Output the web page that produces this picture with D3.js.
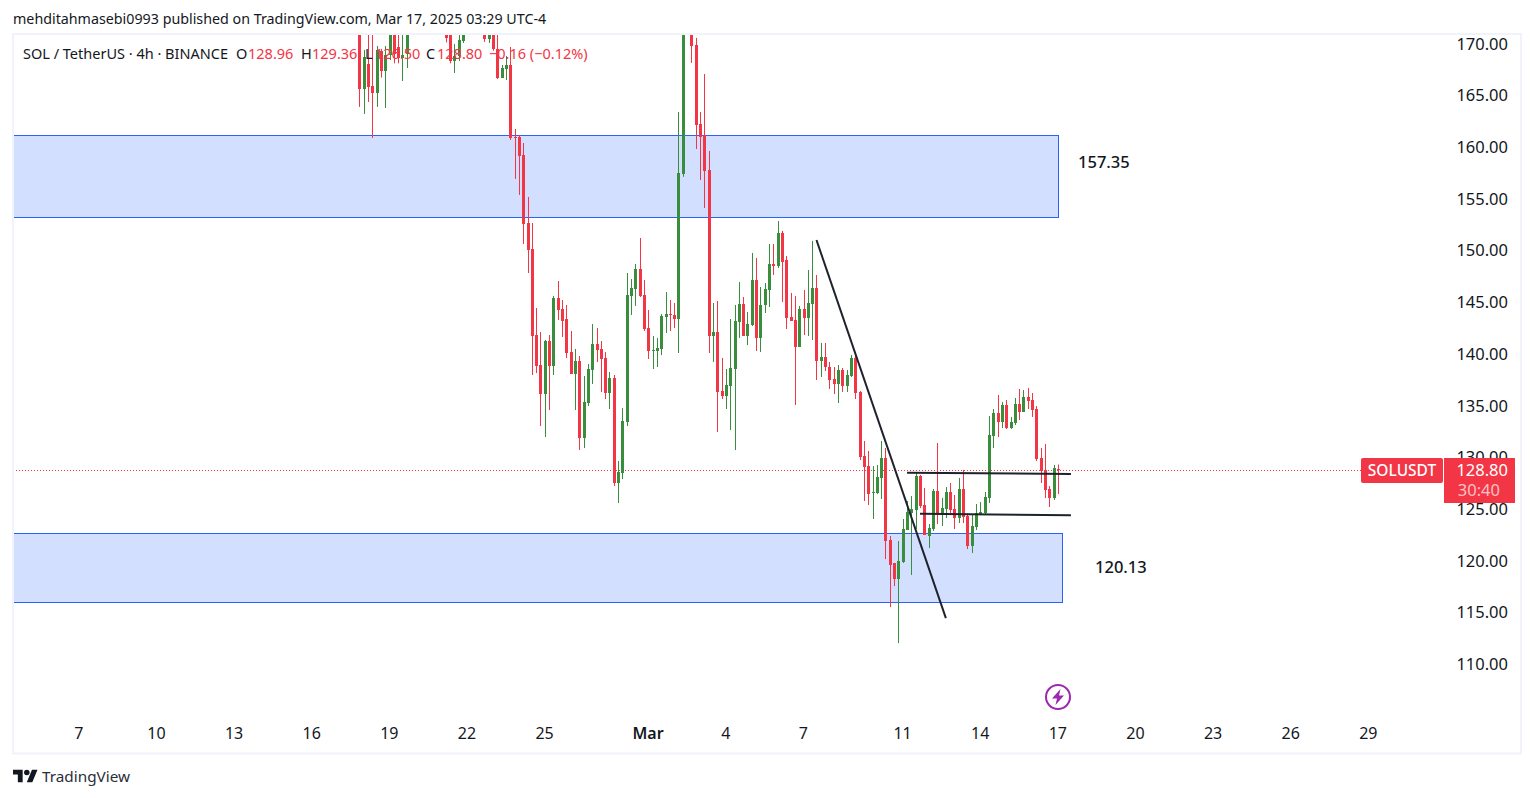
<!DOCTYPE html>
<html>
<head>
<meta charset="utf-8">
<style>
  html, body { margin: 0; padding: 0; background: #fff; }
  svg { display: block; }
  text { font-family: "Noto Sans", sans-serif; }
</style>
<script src="https://cdn.jsdelivr.net/npm/d3@7"></script>
</head>
<body>
<script>
//Data, 4h candles, oldest first (the ones above 171 are off the top of the pane)
var opens = [
  172.0,165.70,168.12,165.99,165.31,169.38,167.44,168.99,171.6,169.76,
  168.70,169.09,172.2,172.4,172.9,173.5,174.1,173.8,173.2,172.6,
  171.8,171.7,168.41,168.89,170.35,174.2,173.6,172.4,173.4,171.7,
  170.54,171.7,169.57,166.76,167.64,168.02,161.05,161.05,159.31,152.73,
  150.21,141.89,138.99,136.18,141.31,138.89,145.47,144.41,143.44,140.24,
  138.12,139.37,131.92,135.31,138.50,141.02,140.54,139.66,136.28,137.73,
  127.57,128.53,133.47,145.66,146.34,148.28,145.76,142.57,140.34,140.34,
  140.54,143.63,143.92,143.83,143.44,157.47,174.6,171.6,169.96,162.31,
  161.25,157.86,141.80,142.18,136.47,135.99,136.96,138.60,143.15,144.89,
  141.80,142.86,147.21,141.60,144.80,146.25,148.76,148.57,151.76,149.15,
  143.63,143.34,140.73,144.41,143.54,144.89,146.44,139.38,139.76,138.80,
  137.64,137.15,138.51,136.96,137.93,139.67,136.38,130.18,129.21,126.60,
  126.60,128.05,129.99,122.05,119.83,118.28,119.93,123.02,124.67,124.96,
  128.25,125.44,122.44,123.12,126.80,124.47,125.06,126.70,125.06,124.18,
  126.99,124.38,121.47,123.31,124.47,124.67,126.12,132.12,134.35,133.48,
  135.12,132.89,133.38,135.22,134.44,135.89,135.60,134.73,130.0,128.83,
  126.99,126.12,128.96
];
var closes = [
  165.70,168.80,165.89,165.31,169.47,167.44,168.99,171.6,169.09,168.70,
  168.99,171.6,171.6,172.2,172.4,172.9,173.5,174.1,173.8,173.2,
  170.64,168.41,168.89,170.44,171.6,173.6,172.4,173.4,171.7,170.54,
  171.6,169.57,166.76,167.73,168.02,160.96,160.96,159.21,152.63,150.12,
  141.79,138.89,136.18,141.31,138.89,145.47,144.31,143.24,140.15,138.12,
  139.37,131.92,135.41,138.60,141.02,140.44,139.57,136.28,137.73,127.57,
  128.63,133.57,145.76,146.44,148.28,145.66,142.47,140.34,140.44,140.63,
  143.73,143.92,143.83,143.44,157.57,174.6,172.2,169.86,162.22,161.05,
  157.76,141.80,142.18,136.38,135.99,137.05,138.70,143.25,144.89,141.80,
  142.96,147.21,141.60,144.80,146.34,148.76,148.57,151.76,148.96,143.54,
  143.25,140.73,144.41,143.54,144.99,146.44,139.38,139.76,138.80,137.54,
  137.15,138.51,136.96,138.02,139.67,136.28,130.09,129.12,126.51,126.70,
  128.15,129.99,121.96,119.63,118.28,120.02,123.12,124.76,125.05,128.25,
  125.35,122.54,123.22,126.80,124.57,125.15,126.70,124.96,124.18,126.99,
  124.28,121.47,123.41,124.67,124.77,126.22,132.22,134.35,133.48,135.12,
  132.89,133.48,135.22,134.44,135.89,135.51,134.64,129.89,128.73,126.89,
  126.12,129.02,128.80
];
var highs = [
  172.6,169.47,171.02,171.02,169.86,169.57,169.86,172.5,172.5,171.6,
  171.02,172.6,173.0,173.2,173.6,174.2,175.0,175.2,174.6,174.0,
  172.5,172.5,170.06,171.02,173.0,175.6,175.0,174.6,174.2,172.8,
  172.5,172.6,171.02,168.02,168.89,169.76,161.83,161.25,160.47,155.25,
  152.73,144.50,142.18,141.41,141.89,145.66,147.12,145.28,144.79,142.28,
  140.54,139.86,137.92,139.08,142.95,142.57,141.31,140.24,138.31,138.02,
  129.70,134.82,147.89,147.31,148.76,151.28,147.21,144.31,141.79,141.60,
  143.92,146.05,145.28,144.99,163.47,176.0,176.2,172.5,170.64,163.47,
  167.15,159.70,144.99,145.18,139.67,138.60,143.44,144.80,147.02,145.57,
  144.12,149.83,149.34,146.54,146.92,150.70,150.70,152.92,151.96,149.54,
  145.96,145.67,144.70,146.25,148.18,151.0,147.70,141.12,141.12,139.28,
  138.80,138.99,138.70,138.51,139.96,139.86,136.47,131.64,130.67,129.21,
  129.31,131.64,130.96,122.44,119.83,121.96,124.09,125.83,126.31,128.54,
  128.35,127.09,123.60,126.99,131.44,126.12,127.18,127.57,126.41,128.06,
  128.83,124.64,124.47,125.54,125.73,126.70,134.06,134.73,136.09,135.41,
  135.60,133.96,135.80,136.67,136.57,136.77,136.28,135.02,130.96,131.35,
  127.28,129.31,129.36
];
var lows = [
  163.96,163.28,164.44,160.96,163.96,166.80,163.86,168.51,168.18,168.18,
  166.47,167.73,171.0,171.6,171.8,172.2,172.8,173.2,172.6,172.0,
  170.2,168.18,167.25,168.41,170.15,173.0,172.0,172.0,171.6,170.25,
  170.15,169.4,166.67,166.76,166.57,160.76,156.99,155.44,150.70,147.89,
  138.02,138.21,133.08,132.02,134.63,138.02,143.34,141.70,139.66,138.12,
  134.63,130.76,130.95,135.02,137.15,139.28,136.37,135.70,134.73,127.28,
  125.63,127.95,133.08,143.83,144.70,145.57,142.28,139.57,138.60,138.79,
  139.95,142.08,142.28,142.57,140.15,157.2,171.8,168.22,159.89,156.89,
  154.18,140.15,139.28,132.50,135.70,134.73,132.70,130.76,141.60,141.80,
  140.92,142.76,140.34,140.25,144.02,144.60,147.70,148.38,145.09,142.47,
  143.25,135.12,140.73,141.89,141.80,141.41,137.54,137.83,138.41,136.67,
  136.18,135.31,136.38,136.38,137.83,135.70,129.80,125.83,125.44,124.09,
  126.51,126.02,120.21,115.57,117.60,112.08,119.83,123.02,118.67,123.12,
  125.15,122.54,121.28,122.93,123.60,123.41,124.18,124.67,123.12,123.70,
  123.70,121.18,120.80,123.02,124.47,124.57,125.64,130.96,132.02,132.89,
  132.80,132.80,133.19,133.67,134.44,134.73,133.96,129.70,127.57,126.12,
  125.25,125.93,126.50
];

var lastCandle = Date.UTC(2025, 2, 17, 4);
var lastClose = 128.80;

var priceTicks = [110, 115, 120, 125, 130, 135, 140, 145, 150, 155, 160, 165, 170];
var timeTicks = [
  "2025-02-07T08:00Z", "2025-02-10T08:00Z", "2025-02-13T08:00Z", "2025-02-16T08:00Z",
  "2025-02-19T08:00Z", "2025-02-22T08:00Z", "2025-02-25T08:00Z", "2025-03-01T08:00Z",
  "2025-03-04T08:00Z", "2025-03-07T08:00Z", "2025-03-11T04:00Z", "2025-03-14T04:00Z",
  "2025-03-17T04:00Z", "2025-03-20T04:00Z", "2025-03-23T04:00Z", "2025-03-26T04:00Z",
  "2025-03-29T04:00Z"
];

// drawn zones: top price, bottom price, end time
var zoneTops = [161.25, 122.73];
var zoneBottoms = [153.31, 116.05];
var zoneEnds = ["2025-03-17T04:00Z", "2025-03-17T08:00Z"];
var zoneLabels = ["157.35", "120.13"];

// drawn lines: from time/price to time/price
var lineFromTimes = ["2025-03-07T20:00Z", "2025-03-11T08:00Z", "2025-03-11T20:00Z"];
var lineFromPrices = [151.08, 128.56, 124.60];
var lineToTimes = ["2025-03-12T20:00Z", "2025-03-17T16:00Z", "2025-03-17T16:00Z"];
var lineToPrices = [114.50, 128.44, 124.44];

var red = "#f23645", green = "#388e3c", ink = "#131722";
var fourHours = 4 * 3600 * 1000;
var w = 1533, h = 798;

var x = d3.scaleUtc()
  .domain([new Date("2025-02-07T08:00Z"), new Date(lastCandle)])
  .range([79, 1058]);
var y = d3.scaleLinear()
  .domain([110, 170])
  .range([664.6, 44.5]);

var svg = d3.select("body").append("svg").attr("width", w).attr("height", h);

svg.append("defs").append("clipPath").attr("id", "pane")
  .append("rect").attr("x", 13).attr("y", 35).attr("width", 1506).attr("height", 718);

var pane = svg.append("g").attr("clip-path", "url(#pane)");

// zones, the left side runs off the pane
zoneTops.forEach(function(top, i) {
  pane.append("rect")
    .attr("x", 0.5)
    .attr("y", Math.round(y(top)) + 0.5)
    .attr("width", Math.round(x(new Date(zoneEnds[i]))))
    .attr("height", Math.round(y(zoneBottoms[i])) - Math.round(y(top)))
    .attr("fill", "#d2dfff")
    .attr("stroke", "#2962ff")
    .attr("stroke-width", 1);
});

// last price line
pane.append("line")
  .attr("x1", 13).attr("x2", 1361)
  .attr("y1", Math.round(y(lastClose)) + 0.5).attr("y2", Math.round(y(lastClose)) + 0.5)
  .attr("stroke", red).attr("stroke-width", 1).attr("stroke-dasharray", "1,2");

// candles
var candles = pane.append("g").selectAll("g")
  .data(opens)
  .enter()
  .append("g")
  .attr("fill", function(d, i) { return closes[i] >= d ? green : red; })
  .attr("transform", function(d, i) {
    var t = new Date(lastCandle - (opens.length - 1 - i) * fourHours);
    return "translate(" + Math.round(x(t)) + ",0)";
  });

candles.append("rect")
  .attr("x", 0).attr("width", 1)
  .attr("y", function(d, i) { return y(highs[i]); })
  .attr("height", function(d, i) { return y(lows[i]) - y(highs[i]); });

candles.append("rect")
  .attr("x", -1).attr("width", 3)
  .attr("y", function(d, i) { return Math.round(y(Math.max(d, closes[i]))); })
  .attr("height", function(d, i) {
    return Math.max(1, Math.round(y(Math.min(d, closes[i]))) - Math.round(y(Math.max(d, closes[i]))));
  });

// drawn lines
lineFromTimes.forEach(function(t, i) {
  pane.append("line")
    .attr("x1", x(new Date(t))).attr("y1", y(lineFromPrices[i]))
    .attr("x2", x(new Date(lineToTimes[i]))).attr("y2", y(lineToPrices[i]))
    .attr("stroke", "#1e222d").attr("stroke-width", 2);
});

// frame
svg.append("rect").attr("x", 13).attr("y", 34).attr("width", 1508).attr("height", 719.5)
  .attr("fill", "none").attr("stroke", "#f0f3fa").attr("stroke-width", 2);

// zone labels
svg.selectAll(".zoneLabel")
  .data(zoneLabels)
  .enter()
  .append("text")
  .attr("class", "zoneLabel")
  .attr("x", function(d, i) { return i === 0 ? 1078 : 1095; })
  .attr("y", function(d, i) { return i === 0 ? 168 : 573; })
  .attr("font-size", 16.5)
  .attr("font-weight", 500)
  .attr("fill", ink)
  .text(function(d) { return d; });

// price axis
var yAxis = d3.axisRight(y).tickValues(priceTicks).tickSize(0).tickPadding(0)
  .tickFormat(d3.format(".2f"));
var yG = svg.append("g").attr("transform", "translate(1508,0)").call(yAxis);
yG.select(".domain").remove();
yG.selectAll("text")
  .attr("text-anchor", "end")
  .attr("dy", "0.35em")
  .attr("y", -1)
  .attr("x", 0)
  .attr("font-size", 16.5)
  .attr("font-family", '"Noto Sans", sans-serif')
  .attr("fill", ink);

// time axis
var xAxis = d3.axisBottom(x)
  .tickValues(timeTicks.map(function(d) { return new Date(d); }))
  .tickSize(0).tickPadding(0)
  .tickFormat(function(d) { return d.getUTCDate() === 1 ? "Mar" : d.getUTCDate(); });
var xG = svg.append("g").attr("transform", "translate(-0.7,733)").call(xAxis);
xG.select(".domain").remove();
xG.selectAll("text")
  .attr("y", 0)
  .attr("dy", "0.35em")
  .attr("font-size", 16)
  .attr("font-family", '"Noto Sans", sans-serif')
  .attr("font-weight", function(d) { return d.getUTCDate() === 1 ? 600 : 400; })
  .attr("fill", ink);

// price labels on the right
var labelY = Math.round(y(lastClose));
svg.append("rect").attr("x", 1361).attr("y", labelY - 12).attr("width", 82).attr("height", 25)
  .attr("rx", 2).attr("fill", red);
svg.append("text").attr("x", 1402).attr("y", labelY + 6).attr("text-anchor", "middle")
  .attr("font-size", 15.5).attr("font-weight", 500).attr("fill", "#fff").text("SOLUSDT");
svg.append("rect").attr("x", 1444).attr("y", labelY - 12).attr("width", 71).attr("height", 45)
  .attr("fill", red);
svg.append("text").attr("x", 1508).attr("y", labelY + 6).attr("text-anchor", "end")
  .attr("font-size", 16.5).attr("fill", "#fff").text(d3.format(".2f")(lastClose));
svg.append("text").attr("x", 1500).attr("y", labelY + 26).attr("text-anchor", "end")
  .attr("font-size", 16.5).attr("fill", "#fff").attr("fill-opacity", 0.7).text("30:40");

// header
svg.append("text").attr("x", 13).attr("y", 24).attr("font-size", 14.27).attr("fill", ink)
  .text("mehditahmasebi0993 published on TradingView.com, Mar 17, 2025 03:29 UTC-4");

var legendParts = [
  ["SOL / TetherUS · 4h · BINANCE", 23, ink],
  ["O", 236, ink], ["128.96", 248, red],
  ["H", 301, ink], ["129.36", 312, red],
  ["L", 365, ink], ["126.50", 375, red],
  ["C", 426, ink], ["128.80", 437, red],
  ["−0.16 (−0.12%)", 489, red]
];
svg.selectAll(".legend")
  .data(legendParts)
  .enter()
  .append("text")
  .attr("class", "legend")
  .attr("x", function(d) { return d[1]; })
  .attr("y", 59)
  .attr("font-size", 14.5)
  .attr("fill", function(d) { return d[2]; })
  .text(function(d) { return d[0]; });

// lightning badge
var bolt = svg.append("g").attr("transform", "translate(" + x(new Date(lastCandle)) + ",697)");
bolt.append("circle").attr("r", 12).attr("fill", "#fff").attr("stroke", "#9c27b0").attr("stroke-width", 2);
bolt.append("path").attr("d", "M2.5,-8 L-6,1.5 L-1,1.5 L-2.5,8 L6,-1.5 L1,-1.5 Z").attr("fill", "#9c27b0");

// logo
var logo = svg.append("g").attr("transform", "translate(13,767) scale(0.69)");
logo.append("path").attr("d", "M14 22H7V11H0V4h14v18zM28 22h-8l7.5-18h8L28 22z").attr("fill", ink);
logo.append("circle").attr("cx", 20).attr("cy", 8).attr("r", 4).attr("fill", ink);
svg.append("text").attr("x", 42).attr("y", 782).attr("font-size", 15.3).attr("fill", "#2a2e39").text("TradingView");
</script>
</body>
</html>
